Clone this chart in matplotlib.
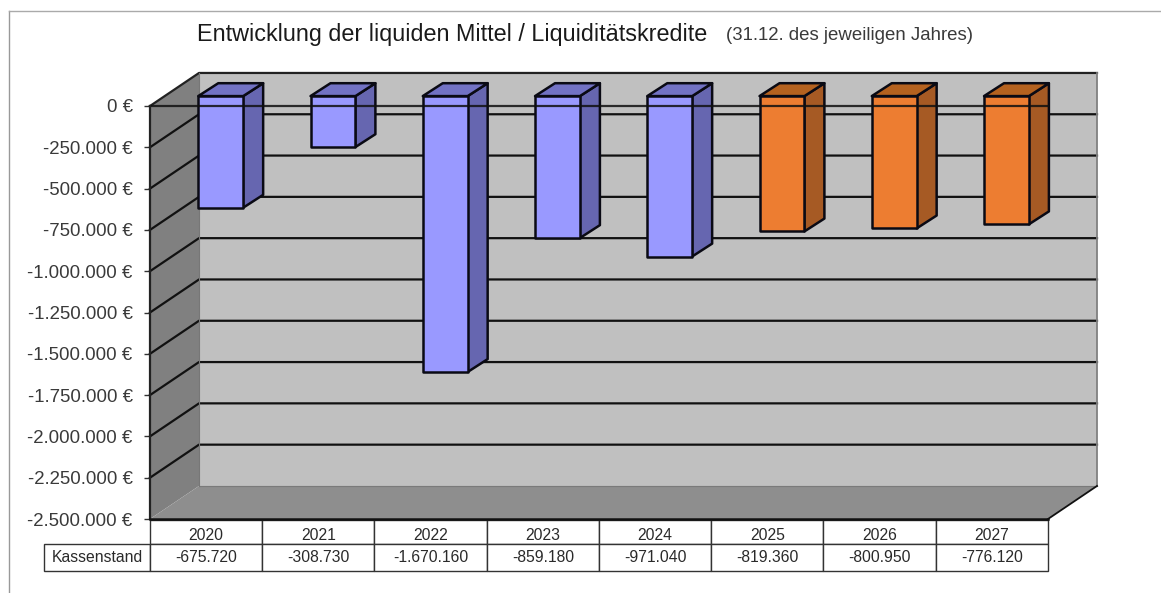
import numpy as np
import matplotlib
matplotlib.use("Agg")
import matplotlib.pyplot as plt
from matplotlib.patches import Polygon

plt.rcParams["font.family"] = ["Liberation Sans", "DejaVu Sans"]

years = ["2020", "2021", "2022", "2023", "2024", "2025", "2026", "2027"]
kassenstand = [-675720, -308730, -1670160, -859180, -971040, -819360, -800950, -776120]
value_labels = ["-675.720", "-308.730", "-1.670.160", "-859.180", "-971.040", "-819.360", "-800.950", "-776.120"]
y_ticks = [0, -250000, -500000, -750000, -1000000, -1250000, -1500000, -1750000, -2000000, -2250000, -2500000]
y_labels = ["0 €", "-250.000 €", "-500.000 €", "-750.000 €", "-1.000.000 €", "-1.250.000 €",
            "-1.500.000 €", "-1.750.000 €", "-2.000.000 €", "-2.250.000 €", "-2.500.000 €"]

W, H = 1161, 593
YMIN, YMAX = -2500000, 0

# 3d look is faked, depth is just a shift in data units
DEPTH_X, DEPTH_Y = 0.4365, 200000
BAR_X, BAR_Y = 0.130, 60000
BAR_DX, BAR_DY = 0.178, 78000
BAR_W = 0.40

BLUE = ("#9999FF", "#6666B0", "#7272C4")
ORANGE = ("#ED7D31", "#A65A24", "#B5621F")
EDGE = "#0A0A14"

fig = plt.figure(figsize=(W / 100, H / 100), dpi=100, facecolor="white")
ax = fig.add_axes([150 / W, 1 - 519 / H, 898 / W, 413 / H])
ax.set_xlim(0, 8)
ax.set_ylim(YMIN, YMAX)
ax.patch.set_visible(False)
for s in ax.spines.values():
    s.set_visible(False)


def poly(pts, **kw):
    p = Polygon(pts, closed=True, clip_on=False, **kw)
    ax.add_patch(p)
    return p


# walls
poly([(DEPTH_X, YMIN + DEPTH_Y), (DEPTH_X + 8, YMIN + DEPTH_Y), (DEPTH_X + 8, DEPTH_Y), (DEPTH_X, DEPTH_Y)],
     facecolor="#C0C0C0", edgecolor="none", zorder=1)
poly([(0, YMIN), (DEPTH_X, YMIN + DEPTH_Y), (DEPTH_X, DEPTH_Y), (0, 0)],
     facecolor="#808080", edgecolor="none", zorder=1)
poly([(0, YMIN), (8, YMIN), (8 + DEPTH_X, YMIN + DEPTH_Y), (DEPTH_X, YMIN + DEPTH_Y)],
     facecolor="#8E8E8E", edgecolor="none", zorder=1)

# grid on back wall and side wall
for v in y_ticks[1:-1]:
    ax.plot([0, DEPTH_X, DEPTH_X + 8], [v, v + DEPTH_Y, v + DEPTH_Y], color="#111111", lw=1.6,
            clip_on=False, zorder=2)
ax.plot([0, DEPTH_X, DEPTH_X + 8], [0, DEPTH_Y, DEPTH_Y], color="#222222", lw=1.6, clip_on=False, zorder=2)
ax.plot([DEPTH_X + 8, DEPTH_X + 8], [DEPTH_Y, YMIN + DEPTH_Y], color="#808080", lw=1.3, clip_on=False, zorder=2)
ax.plot([DEPTH_X, DEPTH_X + 8], [YMIN + DEPTH_Y, YMIN + DEPTH_Y], color="#7a7a7a", lw=0.8, clip_on=False, zorder=2)
ax.plot([DEPTH_X, DEPTH_X], [DEPTH_Y, YMIN + DEPTH_Y], color="#777777", lw=0.8, clip_on=False, zorder=2)

# bars
for i, val in enumerate(kassenstand):
    front, side, top = ORANGE if int(years[i]) >= 2025 else BLUE
    x0 = i + 0.5 - BAR_W / 2 + BAR_X
    x1 = x0 + BAR_W
    y0 = BAR_Y
    y1 = val + BAR_Y
    poly([(x1, y0), (x1 + BAR_DX, y0 + BAR_DY), (x1 + BAR_DX, y1 + BAR_DY), (x1, y1)],
         facecolor=side, edgecolor=EDGE, lw=1.8, joinstyle="round", zorder=3)
    poly([(x0, y0), (x1, y0), (x1 + BAR_DX, y0 + BAR_DY), (x0 + BAR_DX, y0 + BAR_DY)],
         facecolor=top, edgecolor=EDGE, lw=1.8, joinstyle="round", zorder=3)
    poly([(x0, y0), (x1, y0), (x1, y1), (x0, y1)],
         facecolor=front, edgecolor=EDGE, lw=1.8, joinstyle="round", zorder=4)

# zero line runs over the bars
ax.plot([0, 8], [0, 0], color="#101010", lw=1.6, alpha=0.85, zorder=5, clip_on=False)
ax.plot([0, 0], [0, YMIN], color="#222222", lw=1.6, zorder=6, clip_on=False)
ax.plot([0, 8], [YMIN, YMIN], color="#111111", lw=1.8, zorder=6, clip_on=False)
ax.plot([8, 8 + DEPTH_X], [YMIN, YMIN + DEPTH_Y], color="#111111", lw=1.3, zorder=6, clip_on=False)

ax.set_yticks(y_ticks)
ax.set_yticklabels(y_labels, fontsize=13.4, color="#3a3a3a")
ax.tick_params(axis="y", length=4.5, width=1.0, color="#333333", pad=8)
ax.set_xticks([])

# table under the chart, the bbox only counts the year columns
tbl = ax.table(cellText=[value_labels], rowLabels=["Kassenstand"], colLabels=[""] * 8,
               colWidths=[1 / 8] * 8, cellLoc="center", rowLoc="center", colLoc="center",
               bbox=[0, -52 / 413, 1, 51 / 413])
tbl.auto_set_font_size(False)
for (r, c), cell in tbl.get_celld().items():
    cell.set_edgecolor("#333333")
    cell.set_linewidth(1.0)
    cell.set_height(24 / 413 if r == 0 else 27 / 413)
    cell.get_text().set_fontsize(11.3)
    cell.get_text().set_color("#2a2a2a")
# label column is auto sized from the text, padding sets its width
tbl[(1, -1)].PAD = 0.082

# years sit low in their row, table cells would centre them
for i, year in enumerate(years):
    ax.text(i + 0.5, -16.5 / 413, year, transform=ax.get_xaxis_transform(), fontsize=11.3, color="#2a2a2a",
            ha="center", va="center", clip_on=False, zorder=7)

# title
fig.text(197 / W, 1 - 34.5 / H, "Entwicklung der liquiden Mittel / Liquiditätskredite", fontsize=16.85,
         color="#1a1a1a", ha="left", va="center")
fig.text(726 / W, 1 - 36 / H, "(31.12. des jeweiligen Jahres)", fontsize=13.4, color="#3a3a3a",
         ha="left", va="center")

# outer frame of the pasted chart
fig.add_artist(plt.Line2D([8.5 / W, 8.5 / W], [0, 1 - 11 / H], color="#999999", lw=1.0))
fig.add_artist(plt.Line2D([8.5 / W, 1], [1 - 11 / H, 1 - 11 / H], color="#aaaaaa", lw=1.0))

fig.savefig("out.png", dpi=100, facecolor="white")
